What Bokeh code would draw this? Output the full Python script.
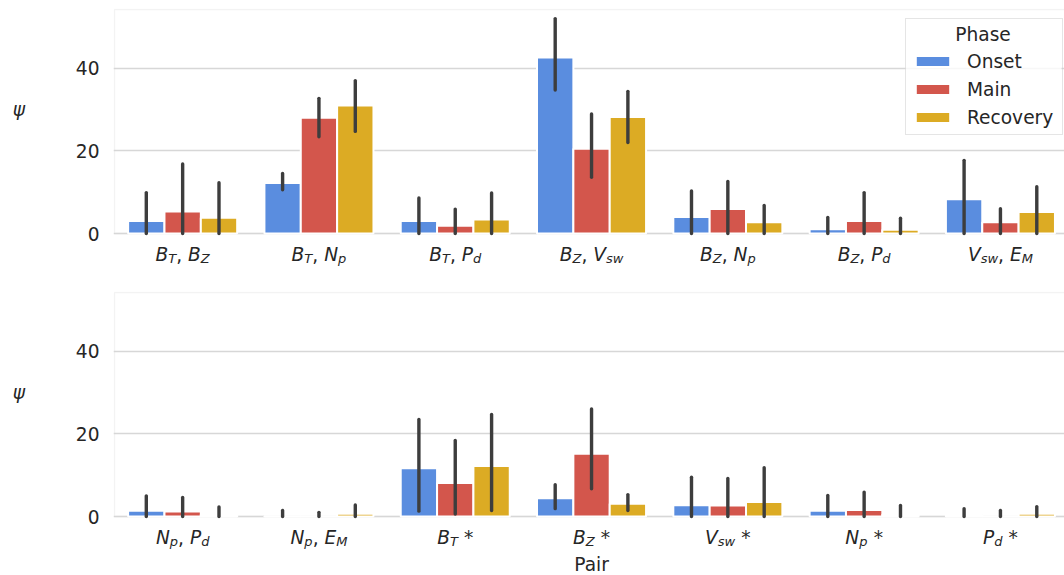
import re
from bokeh.plotting import figure
from bokeh.models import (Range1d, FixedTicker, Label, Legend, LegendItem, BoxAnnotation,
                          ColumnDataSource)
from bokeh.layouts import column
from bokeh.embed import file_html
from bokeh.resources import INLINE

# ---------------- data ----------------
phases = ["Onset", "Main", "Recovery"]

top_pairs = ["B_T, B_Z", "B_T, N_p", "B_T, P_d", "B_Z, V_sw", "B_Z, N_p", "B_Z, P_d", "V_sw, E_M"]
top_onset = [3.0, 12.2, 3.0, 42.6, 4.0, 1.0, 8.3]
top_onset_lo = [0, 10.6, 0, 34.7, 0, 0, 0]
top_onset_hi = [9.9, 14.5, 8.6, 52.0, 10.3, 3.9, 17.7]
top_main = [5.3, 28.0, 1.9, 20.5, 5.9, 3.0, 2.7]
top_main_lo = [0, 23.4, 0, 13.6, 0, 0, 0]
top_main_hi = [16.8, 32.7, 5.9, 28.9, 12.6, 9.9, 6.0]
top_rec = [3.8, 31.0, 3.4, 28.2, 2.7, 0.9, 5.2]
top_rec_lo = [0, 24.7, 0, 22.0, 0, 0, 0]
top_rec_hi = [12.3, 37.0, 9.8, 34.4, 6.8, 3.7, 11.3]

bot_pairs = ["N_p, P_d", "N_p, E_M", "B_T *", "B_Z *", "V_sw *", "N_p *", "P_d *"]
bot_onset = [1.4, 0.05, 11.7, 4.4, 2.7, 1.4, 0.4]
bot_onset_lo = [0, 0, 1.3, 1.9, 0, 0, 0]
bot_onset_hi = [5.0, 1.45, 23.5, 7.7, 9.5, 5.1, 1.9]
bot_main = [1.2, 0.05, 8.1, 15.2, 2.65, 1.55, 0.05]
bot_main_lo = [0, 0, 0.6, 6.7, 0, 0, 0]
bot_main_hi = [4.6, 1.0, 18.4, 26.0, 9.2, 5.9, 1.45]
bot_rec = [0.4, 0.65, 12.2, 3.1, 3.5, 0.5, 0.65]
bot_rec_lo = [0, 0, 1.45, 1.45, 0, 0, 0]
bot_rec_hi = [2.3, 2.8, 24.7, 5.3, 11.8, 2.65, 2.4]

y_ticks = [0, 20, 40]
y_label = "ψ"
x_label = "Pair"
legend_title = "Phase"

# ---------------- style ----------------
COLORS = ["#5a8ddf", "#d3564c", "#dcab24"]
ERR = "#3d3d3d"
GRID = "#d7d7d7"
TXT = "#262626"
FONT = "DejaVu Sans"
FS = 18.6
SUB = 0.7 * FS
YMAX = 54.2
XMIN, XMAX = -0.5, 6.47
AXW, AXH = 950, 224          # axes area (px) spanning XMIN..XMAX and 0..YMAX
PX_X = AXW / (XMAX - XMIN)
PX_Y = AXH / YMAX
LEFT = 114                   # axes left edge (px)
TOP = 9                      # top axes top edge (px)


def px2x(px):
    return XMIN + (px - LEFT) / PX_X


def px2y(py, top=TOP):
    return YMAX - (py - top) / PX_Y


EM = {"B": 0.686, "T": 0.611, "Z": 0.685, "N": 0.748, "P": 0.603, "V": 0.684,
      "E": 0.632, "M": 0.863, "p": 0.635, "d": 0.635, "s": 0.521, "w": 0.818,
      ",": 0.318, " ": 0.318, "*": 0.5}


def tw(text, size):
    return sum(EM.get(c, 0.6) for c in text) * size


def segments(s):
    out = []
    prev = None
    for tok in re.findall(r"[A-Za-z]_[A-Za-z]+|,|\*", s):
        if "_" in tok:
            base, sub = tok.split("_")
            gap = EM[" "] * FS if prev == "," else 0
            out.append((base, "it", gap))
            out.append((sub, "sub", 0))
        elif tok == ",":
            out.append((",", "rm", 0))
        else:
            out.append(("*", "rm", 0.33 * FS))
        prev = tok
    return out


def add_tick_labels(p, pairs):
    base_y = -21 / PX_Y
    for i, s in enumerate(pairs):
        segs = segments(s)
        total = sum(g + tw(t, SUB if k == "sub" else FS) for t, k, g in segs)
        xoff = -total / 2
        for t, k, g in segs:
            xoff += g
            size = SUB if k == "sub" else FS
            y = base_y - (3.5 / PX_Y if k == "sub" else 0)
            p.add_layout(Label(x=i, y=y, x_offset=xoff, text=t, text_font=FONT,
                               text_font_size=f"{size:.1f}px",
                               text_font_style="italic" if k in ("it", "sub") else "normal",
                               text_color=TXT, text_align="left",
                               text_baseline="alphabetic"))
            xoff += tw(t, size)


def make_panel(pairs, series, extra_below, legend=False, xlabel=False):
    # frame: 1px margin left/top so that the spines are fully visible; extends below 0
    p = figure(frame_width=AXW + 1, frame_height=AXH + 1 + extra_below,
               x_range=Range1d(XMIN - 1 / PX_X, XMAX),
               y_range=Range1d(-extra_below / PX_Y, YMAX + 1 / PX_Y),
               output_backend="svg", toolbar_location=None,
               min_border_left=LEFT - 1, min_border_right=0, min_border_top=TOP - 1,
               min_border_bottom=0)
    p.outline_line_color = None
    p.background_fill_color = "white"
    p.xaxis.visible = False
    p.xgrid.visible = False
    p.ygrid.grid_line_color = GRID
    p.ygrid.grid_line_width = 1.3
    p.yaxis.ticker = FixedTicker(ticks=y_ticks)
    p.yaxis.axis_line_color = None
    p.yaxis.major_tick_line_color = None
    p.yaxis.minor_tick_line_color = None
    p.yaxis.major_tick_out = 0
    p.yaxis.major_tick_in = 0
    p.yaxis.major_label_text_font = FONT
    p.yaxis.major_label_text_font_size = f"{FS}px"
    p.yaxis.major_label_text_color = TXT
    p.yaxis.major_label_standoff = 14

    # spines (left, top, bottom); right spine lies beyond the visible area
    p.add_layout(BoxAnnotation(left=XMIN, right=XMAX + 1, bottom=0, top=YMAX,
                               fill_alpha=0, line_color=GRID, line_width=1.3,
                               level="underlay"))

    offs = [-0.8 / 3, 0, 0.8 / 3]
    rends = []
    for j, (vals, lo, hi) in enumerate(series):
        src = ColumnDataSource(dict(x=[i + offs[j] for i in range(len(vals))],
                                    top=vals, lo=lo, hi=hi))
        r = p.vbar(x="x", top="top", bottom=0, width=0.8 / 3, fill_color=COLORS[j],
                   line_color="white", line_width=2, source=src)
        rends.append((r, src))
    for r, src in rends:
        p.segment(x0="x", y0="lo", x1="x", y1="hi", line_color=ERR, line_width=3.4,
                  line_cap="round", source=src)

    add_tick_labels(p, pairs)
    p.add_layout(Label(x=px2x(18.5), y=30.0, text=y_label, text_font=FONT,
                       text_font_size=f"{FS}px", text_font_style="italic", text_color=TXT,
                       text_align="center", text_baseline="alphabetic"), "left")

    if xlabel:
        p.add_layout(Label(x=(XMIN + XMAX + 0.03) / 2, y=-48 / PX_Y, text=x_label, text_font=FONT,
                           text_font_size=f"{FS}px", text_color=TXT, text_align="center",
                           text_baseline="alphabetic"))

    if legend:
        p.add_layout(BoxAnnotation(left=px2x(905), right=px2x(1061), top=px2y(19), bottom=px2y(135),
                                   fill_color="white", fill_alpha=0.8, line_color=None))
        lg = Legend(items=[LegendItem(label=ph, renderers=[rends[j][0]]) for j, ph in enumerate(phases)],
                    location=(905 - (LEFT - 1), (TOP + AXH + extra_below) - 135),
                    title="\u00a0", title_text_font_size=f"{FS}px",
                    title_standoff=3, padding=5, spacing=4, margin=0,
                    glyph_width=43, glyph_height=14, label_height=24, label_standoff=13,
                    label_width=90,
                    label_text_font=FONT, label_text_font_size=f"{FS}px", label_text_color=TXT,
                    border_line_color="#cccccc", border_line_width=1,
                    background_fill_alpha=0)
        p.add_layout(lg, "center")
        p.add_layout(Label(x=px2x(982.5), y=px2y(34.3),
                           text=legend_title, text_font=FONT, text_font_size=f"{FS}px",
                           text_color=TXT, text_align="center", text_baseline="middle"))
    return p


p1 = make_panel(top_pairs,
                [(top_onset, top_onset_lo, top_onset_hi),
                 (top_main, top_main_lo, top_main_hi),
                 (top_rec, top_rec_lo, top_rec_hi)],
                extra_below=50, legend=True)
p2 = make_panel(bot_pairs,
                [(bot_onset, bot_onset_lo, bot_onset_hi),
                 (bot_main, bot_main_lo, bot_main_hi),
                 (bot_rec, bot_rec_lo, bot_rec_hi)],
                extra_below=59, xlabel=True)

layout = column(p1, p2, spacing=0)
open("out.html", "w").write(file_html(layout, INLINE))
